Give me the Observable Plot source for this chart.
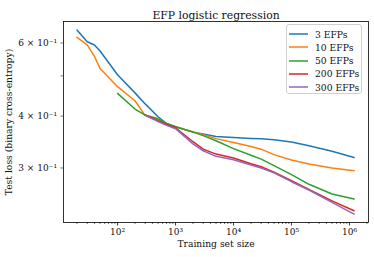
<!DOCTYPE html>
<html>
<head>
<meta charset="utf-8">
<script src="https://cdn.jsdelivr.net/npm/d3@7"></script>
<script src="https://cdn.jsdelivr.net/npm/@observablehq/plot@0.6"></script>
<style>
  body { margin: 0; background: white; }
  #wrap { position: relative; width: 374px; height: 257px; font-family: "DejaVu Serif", serif; }
  #legend { position: absolute; left: 286px; top: 24px; width: 76px; height: 70px;
    border: 1px solid #d0d0d0; border-radius: 3px; background: rgba(255,255,255,0.85); box-sizing: border-box; }
  .item { position: absolute; left: 0; height: 12px; display: flex; align-items: center; font-size: 9.2px; color: #111; }
  .item svg { margin-left: 2px; margin-right: 7px; }
</style>
</head>
<body>
<div id="wrap"></div>
<script>
// Training set sizes
const trainSizes = [20, 30, 40, 50, 100, 200, 300, 500, 700, 1000, 2000, 3000, 5000, 10000, 20000, 30000, 50000, 100000, 200000, 500000, 1200000];
// Test loss per EFP count (null = not measured)
const loss3   = [0.645, 0.604, 0.5935, 0.574, 0.503, 0.455, 0.428, 0.3986, 0.384, 0.377, 0.366, 0.362, 0.357, 0.355, 0.3535, 0.353, 0.351, 0.3465, 0.3395, 0.329, 0.318];
const loss10  = [0.619, 0.5935, 0.557, 0.521, 0.471, 0.4356, 0.401, 0.39, 0.383, 0.377, 0.367, 0.361, 0.353, 0.3457, 0.338, 0.333, 0.323, 0.3135, 0.3066, 0.300, 0.2954];
const loss50  = [null, null, null, null, 0.4537, 0.416, 0.4024, 0.394, 0.384, 0.377, 0.366, 0.359, 0.349, 0.334, 0.322, 0.315, 0.304, 0.289, 0.274, 0.2597, 0.2525];
const loss200 = [null, null, null, null, null, null, 0.4024, 0.39, 0.382, 0.375, 0.347, 0.333, 0.324, 0.317, 0.307, 0.302, 0.293, 0.2794, 0.2665, 0.250, 0.2366];
const loss300 = [null, null, null, null, null, null, 0.4024, 0.388, 0.38, 0.373, 0.343, 0.330, 0.320, 0.314, 0.305, 0.300, 0.292, 0.278, 0.2655, 0.248, 0.2323];
const seriesNames = ["3 EFPs", "10 EFPs", "50 EFPs", "200 EFPs", "300 EFPs"];
const seriesColors = ["#1f77b4", "#ff7f0e", "#2ca02c", "#d62728", "#9467bd"];
const majorX = [100, 1000, 10000, 100000, 1000000];
const majorXLabels = ["10²", "10³", "10⁴", "10⁵", "10⁶"];
const yTicks = [0.3, 0.4, 0.5, 0.6];
const yTickLabels = ["3 × 10⁻¹", "4 × 10⁻¹", "", "6 × 10⁻¹"];
const title = "EFP logistic regression";
const xLabel = "Training set size";
const yLabel = "Test loss (binary cross-entropy)";

const allLoss = [loss3, loss10, loss50, loss200, loss300];
const data = seriesNames.flatMap((name, i) =>
  trainSizes.map((x, j) => ({x, y: allLoss[i][j], s: name})).filter(d => d.y != null));

const minorX = [];
for (let e = 1; e <= 6; e++) for (let m = 2; m <= 9; m++) {
  const v = m * 10 ** e; if (v > 11.7 && v < 2.1e6) minorX.push(v);
}

const chart = Plot.plot({
  width: 374, height: 257,
  marginTop: 21, marginBottom: 35, marginLeft: 63, marginRight: 6,
  x: {type: "log", domain: [11.7, 2.13e6]},
  y: {type: "log", domain: [0.2217, 0.676]},
  color: {domain: seriesNames, range: seriesColors},
  style: {fontFamily: "DejaVu Serif", fontSize: "9px", background: "white", color: "#111"},
  marks: [
    Plot.axisX({ticks: minorX, tickSize: 2, tickFormat: () => "", label: null, strokeWidth: 0.6}),
    Plot.axisX({ticks: majorX, tickSize: 3.5, tickPadding: 3, tickFormat: d => majorXLabels[majorX.indexOf(d)], label: null, strokeWidth: 0.8}),
    Plot.axisY({ticks: yTicks, tickSize: 2.5, tickPadding: 4, tickFormat: d => yTickLabels[yTicks.indexOf(d)], label: null, strokeWidth: 0.6}),
    Plot.line(data, {x: "x", y: "y", z: "s", stroke: "s", strokeWidth: 1.5}),
    Plot.frame({stroke: "black", strokeWidth: 0.8}),
    Plot.text([title], {text: d => d, frameAnchor: "top", dy: -10, fontSize: 10.8}),
    Plot.text([xLabel], {text: d => d, frameAnchor: "bottom", dy: 24, fontSize: 9.2}),
    Plot.text([yLabel], {text: d => d, frameAnchor: "left", textAnchor: "middle", rotate: -90, dx: -54, fontSize: 9.2})
  ]
});
const wrap = document.getElementById("wrap");
wrap.appendChild(chart);

const legend = document.createElement("div");
legend.id = "legend";
seriesNames.forEach((name, i) => {
  const it = document.createElement("div");
  it.className = "item";
  it.style.top = (3 + 13.3 * i) + "px";
  const ns = "http://www.w3.org/2000/svg";
  const sw = document.createElementNS(ns, "svg");
  sw.setAttribute("width", 19); sw.setAttribute("height", 6);
  const ln = document.createElementNS(ns, "line");
  ln.setAttribute("x1", 0); ln.setAttribute("x2", 19); ln.setAttribute("y1", 3); ln.setAttribute("y2", 3);
  ln.setAttribute("stroke", seriesColors[i]); ln.setAttribute("stroke-width", 1.5);
  sw.appendChild(ln);
  const tx = document.createElement("span"); tx.textContent = name;
  it.appendChild(sw); it.appendChild(tx);
  legend.appendChild(it);
});
wrap.appendChild(legend);
</script>
</body>
</html>
